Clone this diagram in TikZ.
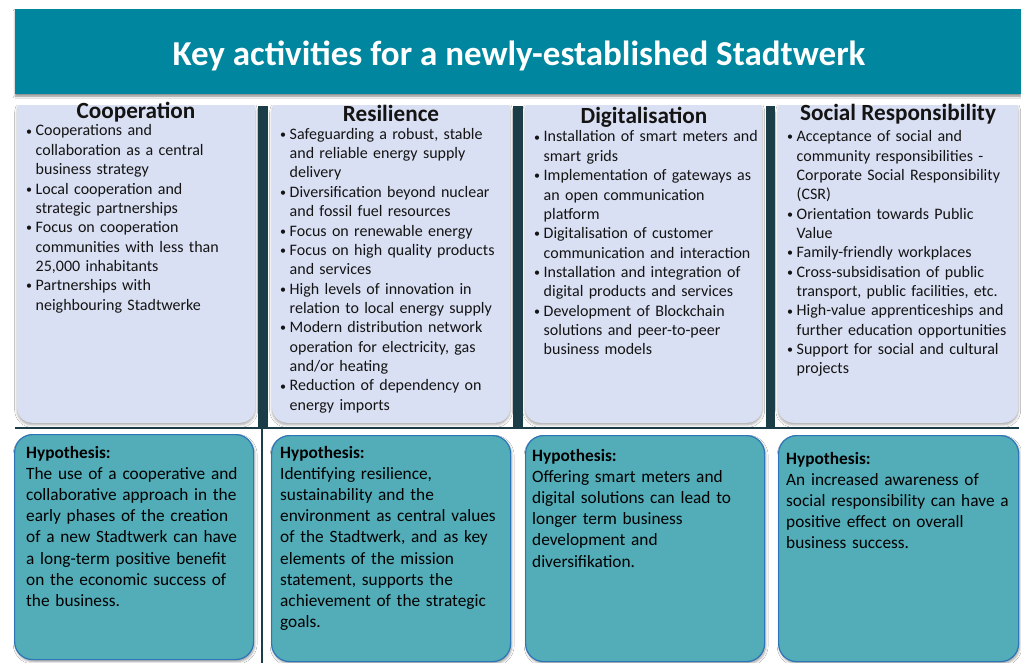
\documentclass[tikz,border=0pt]{standalone}
\usepackage{fontspec}
\setmainfont{Carlito}
\usetikzlibrary{positioning,shadows.blur}
\definecolor{barteal}{RGB}{0,134,158}
\definecolor{sepdark}{RGB}{27,61,72}
\definecolor{panelblue}{RGB}{218,224,243}
\definecolor{hypteal}{RGB}{82,173,184}
\definecolor{hypedge}{RGB}{45,117,182}
\definecolor{textdark}{RGB}{20,20,20}
\tikzset{
  titlebar/.style={fill=barteal, inner sep=0pt, blur shadow={shadow xshift=0pt, shadow yshift=-2pt, shadow blur radius=2pt, shadow opacity=45}},
  title text/.style={text=white, font=\fontsize{35}{42}\bfseries, anchor=base, inner sep=0pt},
  panel/.style={fill=panelblue, rounded corners=15pt, inner sep=0pt, blur shadow={shadow xshift=0pt, shadow yshift=-2pt, shadow blur radius=2.5pt, shadow opacity=35}},
  panel head/.style={text=textdark, font=\fontsize{23.2}{28}\bfseries, anchor=base, inner sep=0pt},
  item list/.style={text=textdark, font=\fontsize{16}{19.35}\selectfont, text width=232pt, align=left, anchor=base west, inner sep=0pt},
  hyp box/.style={fill=hypteal, draw=hypedge, line width=1.2pt, rounded corners=18pt, inner sep=0pt, blur shadow={shadow xshift=1pt, shadow yshift=-2pt, shadow blur radius=2.5pt, shadow opacity=40}},
  hyp text/.style={text=black, font=\fontsize{17.3}{21.2}\selectfont, text width=235pt, align=left, anchor=base west, inner sep=0pt},
}
% bullet items with hanging indent, lines broken by hand
\newcommand\firstbul{\hangindent=10.5pt\hangafter=1\noindent\makebox[10.5pt][l]{\hspace{1pt}\raisebox{0.8pt}{\fontsize{12}{12}\selectfont\textbullet}}}
\newcommand\bul{\par\firstbul}

\begin{document}
\begin{tikzpicture}[x=1pt,y=-1pt]
\useasboundingbox (0,0) rectangle (1021,663);
\fill[white] (0,0) rectangle (1021,663);

% the title
\node[titlebar, minimum width=1006pt, minimum height=85pt, anchor=north west] (titleBar) at (15,9) {};
\node[title text] (title) at (519,66) {Key activities for a newly-established Stadtwerk};

% the column panels, cut flat at the top
\begin{scope}
\clip (0,106) rectangle (1021,440);
\node[panel, minimum width=238pt, minimum height=327pt, anchor=south west] (coopPanel) at (17,423) {};
\node[panel, minimum width=238pt, minimum height=327pt, anchor=south west] (resilPanel) at (272,423) {};
\node[panel, minimum width=237pt, minimum height=327pt, anchor=south west] (digitPanel) at (525,423) {};
\node[panel, minimum width=240pt, minimum height=327pt, anchor=south west] (socialPanel) at (778,423) {};
\end{scope}

%dividers of the table
\fill[sepdark] (258,106) rectangle (268,428);
\fill[sepdark] (513,106) rectangle (523,428);
\fill[sepdark] (766,106) rectangle (775,428);
\draw[sepdark, line width=2pt] (15,428) -- (1019,428);
\draw[sepdark, line width=1.2pt] (262,428) -- (262,663);

% the headings
\node[panel head] (coopHead) at (136,118.5) {Cooperation};
\node[panel head] (resilHead) at (391,121.5) {Resilience};
\node[panel head] (digitHead) at (644,123.5) {Digitalisation};
\node[panel head] (socialHead) at (898,120.5) {Social Responsibility};

% the lists
\node[item list] (coopList) at (25,136) {\firstbul Cooperations and\newline collaboration as a central\newline business strategy
\bul Local cooperation and\newline strategic partnerships
\bul Focus on cooperation\newline communities with less than\newline 25,000 inhabitants
\bul Partnerships with\newline neighbouring Stadtwerke\par};

\node[item list] (resilList) at (279,139.3) {\firstbul Safeguarding a robust, stable\newline and reliable energy supply\newline delivery
\bul Diversification beyond nuclear\newline and fossil fuel resources
\bul Focus on renewable energy
\bul Focus on high quality products\newline and services
\bul High levels of innovation in\newline relation to local energy supply
\bul Modern distribution network\newline operation for electricity, gas\newline and/or heating
\bul Reduction of dependency on\newline energy imports\par};

\node[item list] (digitList) at (533,142) {\firstbul Installation of smart meters and\newline smart grids
\bul Implementation of gateways as\newline an open communication\newline platform
\bul Digitalisation of customer\newline communication and interaction
\bul Installation and integration of\newline digital products and services
\bul Development of Blockchain\newline solutions and peer-to-peer\newline business models\par};

\node[item list] (socialList) at (786,141.7) {\firstbul Acceptance of social and\newline community responsibilities -\newline Corporate Social Responsibility\newline (CSR)
\bul Orientation towards Public\newline Value
\bul Family-friendly workplaces
\bul Cross-subsidisation of public\newline transport, public facilities, etc.
\bul High-value apprenticeships and\newline further education opportunities
\bul Support for social and cultural\newline projects\par};

% the hypothesis boxes
\node[hyp box, minimum width=239pt, minimum height=225pt, anchor=north west] (coopHyp) at (14,434) {};
\node[hyp box, minimum width=239pt, minimum height=226pt, anchor=north west] (resilHyp) at (271,435) {};
\node[hyp box, minimum width=239pt, minimum height=226pt, anchor=north west] (digitHyp) at (525,435) {};
\node[hyp box, minimum width=240pt, minimum height=226pt, anchor=north west] (socialHyp) at (778,435) {};

\node[hyp text] (coopHypText) at (26,458) {\textbf{Hypothesis:}\\ The use of a cooperative and\\ collaborative approach in the\\ early phases of the creation\\ of a new Stadtwerk can have\\ a long-term positive benefit\\ on the economic success of\\ the business.};
\node[hyp text] (resilHypText) at (280,458) {\textbf{Hypothesis:}\\ Identifying resilience,\\ sustainability and the\\ environment as central values\\ of the Stadtwerk, and as key\\ elements of the mission\\ statement, supports the\\ achievement of the strategic\\ goals.};
\node[hyp text] (digitHypText) at (532,461) {\textbf{Hypothesis:}\\ Offering smart meters and\\ digital solutions can lead to\\ longer term business\\ development and\\ diversifikation.};
\node[hyp text] (socialHypText) at (786,464) {\textbf{Hypothesis:}\\ An increased awareness of\\ social responsibility can have a\\ positive effect on overall\\ business success.};
\end{tikzpicture}
\end{document}
